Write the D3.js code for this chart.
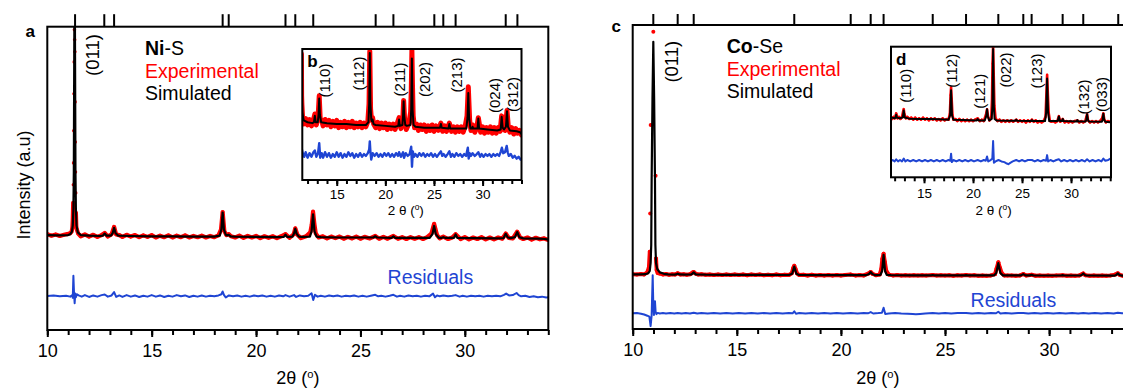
<!DOCTYPE html>
<html>
<head>
<meta charset="utf-8">
<script src="https://cdn.jsdelivr.net/npm/d3@7"></script>
<style>
  html, body { margin: 0; padding: 0; background: #fff; }
  svg { display: block; }
</style>
</head>
<body>
<script>
// ---------------- Ni-S pattern (2θ in degrees, intensity in a.u.) ----------------
const niBragg = [11.33, 12.73, 13.20, 18.40, 18.69, 21.41, 21.88, 22.74, 25.73, 26.58, 28.54, 28.97, 29.56, 31.96, 32.52];

const niSim = [[10.00,313],[10.50,312],[11.00,313],[11.10,316],[11.18,324],[11.22,345],[11.25,400],[11.27,520],[11.29,900],[11.31,1250],[11.33,900],[11.35,520],[11.37,400],[11.40,345],[11.46,322],[11.60,313],[12.00,311],[12.50,310],[12.66,311],[12.75,318],[12.84,311],[13.05,311],[13.13,319],[13.20,337],[13.27,319],[13.40,311],[14.00,310],[15.00,309],[16.00,309],[17.00,308],[18.00,308],[18.26,311],[18.34,332],[18.40,387],[18.46,332],[18.55,314],[18.62,312],[18.69,314],[18.78,309],[19.00,308],[20.00,307],[21.00,306],[21.33,307],[21.41,314],[21.49,307],[21.75,308],[21.82,318],[21.88,334],[21.94,318],[22.05,308],[22.20,307],[22.58,308],[22.66,325],[22.73,381],[22.80,325],[22.90,308],[23.10,306],[24.00,305],[25.00,305],[25.62,305],[25.71,309],[25.80,305],[26.49,304],[26.58,309],[26.67,304],[27.50,304],[28.32,304],[28.45,316],[28.53,343],[28.61,316],[28.75,304],[28.90,304],[28.97,306],[29.05,304],[29.48,304],[29.56,315],[29.64,304],[30.50,303],[31.50,302],[31.86,303],[31.96,317],[32.06,305],[32.20,303],[32.40,306],[32.51,323],[32.61,306],[32.80,302],[33.50,301],[33.85,300],[34.00,298]];

const niExp = [[10.0,316],[10.2,311],[10.4,315],[10.6,310],[10.8,314],[11.0,317],[11.1,319],[11.16,324],[11.2,335],[11.22,363],[11.24,419],[11.25,479],[11.26,551],[11.27,657],[11.28,779],[11.29,884],[11.30,990],[11.31,957],[11.32,917],[11.33,752],[11.34,620],[11.35,521],[11.36,452],[11.37,386],[11.39,340],[11.42,330],[11.48,318],[11.6,309],[11.8,315],[12.0,308],[12.2,314],[12.4,307],[12.6,313],[12.75,320],[12.9,308],[13.08,316],[13.2,340],[13.3,315],[13.45,313],[13.6,307],[13.8,314],[14.0,308],[14.2,313],[14.4,306],[14.6,312],[14.8,307],[15.0,313],[15.2,305],[15.4,311],[15.6,306],[15.8,312],[16.0,305],[16.2,311],[16.4,306],[16.6,312],[16.8,305],[17.0,310],[17.2,306],[17.4,311],[17.6,305],[17.8,310],[18.0,306],[18.2,312],[18.32,331],[18.40,389],[18.48,326],[18.58,313],[18.69,316],[18.8,309],[19.0,305],[19.2,311],[19.4,304],[19.6,310],[19.8,305],[20.0,310],[20.2,303],[20.4,309],[20.6,304],[20.8,309],[21.0,303],[21.2,309],[21.41,316],[21.6,304],[21.8,315],[21.88,335],[21.98,314],[22.15,303],[22.4,309],[22.6,322],[22.67,348],[22.73,390],[22.79,352],[22.86,318],[23.0,305],[23.2,309],[23.4,302],[23.6,308],[23.8,303],[24.0,308],[24.2,301],[24.4,307],[24.6,302],[24.8,308],[25.0,301],[25.2,307],[25.45,302],[25.71,310],[25.9,301],[26.1,307],[26.3,301],[26.58,310],[26.8,301],[27.0,306],[27.2,300],[27.4,306],[27.6,301],[27.8,306],[28.0,300],[28.2,306],[28.4,318],[28.47,335],[28.53,350],[28.59,334],[28.67,313],[28.8,302],[28.97,308],[29.2,300],[29.4,305],[29.56,316],[29.8,300],[30.0,306],[30.2,299],[30.4,305],[30.6,300],[30.8,306],[31.0,299],[31.2,305],[31.4,299],[31.6,305],[31.8,301],[31.96,318],[32.1,304],[32.3,302],[32.51,324],[32.65,305],[32.8,300],[33.0,305],[33.2,298],[33.4,304],[33.6,299],[33.8,302],[34.0,297]];

const niRes = [[10.0,0],[10.3,2],[10.6,-1],[10.9,1],[11.1,-2],[11.2,3],[11.22,-6],[11.25,67],[11.28,10],[11.31,-24],[11.34,8],[11.37,-4],[11.42,6],[11.5,2],[11.65,-2],[11.8,3],[12.0,-3],[12.2,2],[12.4,-2],[12.6,3],[12.75,5],[12.9,-2],[13.08,2],[13.2,13],[13.3,-3],[13.45,2],[13.6,-3],[13.8,3],[14.0,-2],[14.2,2],[14.4,-3],[14.6,1],[14.8,-2],[15.0,3],[15.2,-2],[15.4,2],[15.6,-3],[15.8,1],[16.0,-2],[16.2,3],[16.4,-1],[16.6,2],[16.8,-3],[17.0,1],[17.2,-2],[17.4,2],[17.6,-2],[17.8,1],[18.0,-1],[18.2,2],[18.34,6],[18.4,15],[18.46,4],[18.55,-5],[18.7,2],[18.9,-1],[19.1,2],[19.3,-2],[19.5,1],[19.7,-2],[19.9,2],[20.1,-1],[20.3,2],[20.5,-2],[20.7,1],[20.9,-2],[21.1,2],[21.3,-1],[21.41,3],[21.6,-2],[21.82,3],[21.92,-3],[22.1,2],[22.3,-1],[22.5,1],[22.66,9],[22.74,-13],[22.82,4],[22.95,-2],[23.1,1],[23.3,-2],[23.5,2],[23.7,-1],[23.9,2],[24.1,-2],[24.3,1],[24.5,-1],[24.7,2],[24.9,-2],[25.1,1],[25.3,-2],[25.5,1],[25.71,4],[25.85,-1],[26.0,1],[26.2,-2],[26.4,1],[26.58,4],[26.75,-2],[26.9,1],[27.1,-2],[27.3,2],[27.5,-1],[27.7,1],[27.9,-2],[28.1,1],[28.3,-1],[28.48,8],[28.57,-4],[28.67,2],[28.8,-1],[28.97,2],[29.2,-1],[29.4,1],[29.56,3],[29.75,-2],[29.9,1],[30.1,-2],[30.3,1],[30.5,-1],[30.7,1],[30.9,-2],[31.1,1],[31.3,-1],[31.5,1],[31.7,-1],[31.88,4],[31.98,8],[32.12,2],[32.3,3],[32.48,10],[32.58,3],[32.7,-1],[32.9,1],[33.1,-3],[33.3,-1],[33.5,-4],[33.7,-2],[33.9,-5],[34.0,-4]];

const niInsetHkl = ["(110)", "(112)", "(211)", "(202)", "(213)", "(024)", "(312)"];
const niInsetHklTheta = [13.79, 17.29, 21.43, 24.00, 27.33, 31.26, 33.07];

// ---------------- Co-Se pattern ----------------
const coBragg = [10.99, 12.16, 12.93, 17.76, 20.47, 21.43, 22.05, 24.41, 26.01, 27.56, 28.76, 29.16, 30.65, 31.64, 33.32];

const coSim = [[10.0,273],[10.4,273],[10.6,274],[10.75,279],[10.82,290],[10.86,330],[10.89,420],[10.91,745],[10.95,1150],[10.99,1436],[11.03,1150],[11.07,745],[11.09,420],[11.12,330],[11.18,300],[11.3,283],[11.5,276],[11.7,273],[12.0,272],[12.09,273],[12.16,277],[12.23,273],[12.5,272],[12.83,273],[12.93,283],[13.03,273],[13.5,271.5],[14.5,271],[15.5,271],[16.5,270.5],[17.5,270],[17.66,276],[17.76,312],[17.86,276],[18.0,270],[19.0,269.5],[20.38,269],[20.47,271],[20.56,269],[21.2,269],[21.35,275],[21.43,285],[21.51,275],[21.65,269],[21.9,271],[21.98,290],[22.05,371],[22.12,290],[22.2,271],[22.4,269],[23.5,268.5],[24.33,268.5],[24.41,270],[24.49,268.5],[25.93,268],[26.01,269.5],[26.09,268],[27.35,268],[27.46,280],[27.56,329],[27.66,280],[27.78,268],[28.65,268],[28.76,274.5],[28.87,268],[29.08,268],[29.16,271],[29.24,268],[30.57,267.5],[30.65,269.5],[30.73,267.5],[31.5,267.5],[31.56,270],[31.64,277.5],[31.72,270],[31.8,267.5],[33.15,267],[33.22,270],[33.3,278.5],[33.38,270],[33.5,267],[34.0,266.5]];

const coExp = [[10.0,274],[10.2,272],[10.4,275],[10.55,273],[10.7,283],[10.78,308],[10.82,386],[10.84,578],[10.865,1020],[10.99,1486],[11.1,766],[11.12,353],[11.15,295],[11.2,280],[11.3,277],[11.45,273],[11.6,275],[11.75,271],[11.9,274],[12.03,272],[12.16,279],[12.3,272],[12.45,274],[12.6,271],[12.75,274],[12.87,282],[12.93,285],[13.0,278],[13.15,272],[13.3,274],[13.5,271],[13.7,273],[13.9,270],[14.1,273],[14.3,270],[14.5,272],[14.7,270],[14.9,273],[15.1,270],[15.3,272],[15.5,269],[15.7,272],[15.9,270],[16.1,272],[16.3,269],[16.5,271],[16.7,269],[16.9,272],[17.1,269],[17.3,271],[17.5,270],[17.64,279],[17.71,305],[17.76,316],[17.82,300],[17.9,277],[18.0,270],[18.2,271],[18.4,268],[18.6,271],[18.8,268],[19.0,270],[19.2,268],[19.4,270],[19.6,268],[19.8,270],[20.0,268],[20.2,270],[20.47,272],[20.7,268],[20.9,270],[21.1,268],[21.33,278],[21.43,285],[21.53,275],[21.68,269],[21.86,272],[21.94,300],[21.99,350],[22.05,376],[22.11,335],[22.18,290],[22.3,272],[22.5,268],[22.7,270],[22.9,267],[23.1,269],[23.3,267],[23.5,269],[23.7,267],[23.9,269],[24.1,267],[24.41,270],[24.6,267],[24.8,269],[25.0,267],[25.2,269],[25.4,266],[25.6,269],[25.8,267],[26.01,270],[26.2,267],[26.4,269],[26.6,266],[26.8,268],[27.0,266],[27.2,268],[27.4,274],[27.47,300],[27.56,334],[27.64,305],[27.72,280],[27.85,268],[28.0,267],[28.2,268],[28.4,266],[28.6,268],[28.76,275],[28.9,267],[29.16,271],[29.35,266],[29.55,268],[29.75,266],[29.95,268],[30.15,266],[30.35,268],[30.65,269],[30.85,266],[31.05,268],[31.25,266],[31.45,268],[31.57,274],[31.64,278],[31.74,269],[31.95,266],[32.15,268],[32.35,266],[32.55,268],[32.75,266],[32.95,268],[33.17,272],[33.3,279],[33.4,270],[33.55,266],[33.75,268],[34.0,267]];

const coRes = [[10.0,0],[10.2,1],[10.4,-2],[10.55,-6],[10.7,-12],[10.8,-17],[10.86,-64],[10.91,-10],[10.96,190],[10.99,40],[11.02,-8],[11.07,60],[11.1,8],[11.14,-4],[11.2,2],[11.3,-1],[11.45,1],[11.6,-1],[11.8,1],[12.0,-1],[12.16,2],[12.35,-1],[12.55,1],[12.75,-1],[12.93,3],[13.1,-1],[13.3,1],[13.6,-1],[13.9,1],[14.2,-1],[14.5,1],[14.8,-1],[15.1,1],[15.4,-1],[15.7,1],[16.0,-1],[16.3,1],[16.6,-1],[16.9,1],[17.2,-1],[17.5,1],[17.68,0],[17.76,10],[17.84,-2],[18.0,1],[18.3,-1],[18.6,1],[18.9,-1],[19.2,1],[19.5,-1],[19.8,1],[20.1,-1],[20.47,1],[20.8,-1],[21.1,1],[21.3,0],[21.43,6],[21.55,-1],[21.8,1],[21.97,3],[22.05,28],[22.13,-3],[22.3,-1],[22.6,1],[22.9,-1],[23.2,-2],[23.45,-4],[23.6,-5],[23.8,-3],[24.05,-1],[24.41,1],[24.7,-1],[25.0,1],[25.3,-1],[25.6,1],[26.01,1],[26.3,-1],[26.6,1],[26.9,-1],[27.2,1],[27.45,0],[27.56,8],[27.66,-1],[27.9,1],[28.2,-1],[28.5,1],[28.76,2],[29.0,-1],[29.3,1],[29.6,-1],[29.9,1],[30.2,-1],[30.5,1],[30.8,-1],[31.1,1],[31.4,-1],[31.64,2],[31.9,-1],[32.2,1],[32.5,-1],[32.8,1],[33.1,-1],[33.3,3],[33.5,0],[33.8,1],[34.0,3]];

const coInsetHkl = ["(110)", "(112)", "(121)", "(022)", "(123)", "(132)", "(033)"];
const coInsetHklTheta = [13.06, 17.82, 20.71, 23.34, 26.51, 31.27, 33.11];

// Axis ticks
const mainMajorTicks = [10, 15, 20, 25, 30];
const mainMinorTicks = d3.range(10, 35, 1);
const insetMajorTicks = [15, 20, 25, 30];
const insetMinorTicks = d3.range(12, 35, 1);

// ---------------- drawing ----------------
const FONT = '"Liberation Sans", Arial, Helvetica, sans-serif';
const RED = "#ff0000", BLUE = "#1f45d3", BLACK = "#000000";

const svg = d3.select("body").append("svg")
  .attr("width", 1123).attr("height", 391)
  .style("font-family", FONT)
  .style("background", "#fff");

const defs = svg.append("defs");
let clipN = 0;
function clip(x0, y0, x1, y1) {
  const id = "clip" + (clipN++);
  defs.append("clipPath").attr("id", id).append("rect")
    .attr("x", x0).attr("y", y0).attr("width", x1 - x0).attr("height", y1 - y0);
  return "url(#" + id + ")";
}

// experimental band + points, simulated line, shifted residual
function drawPattern(g, x, y, exp, sim, res, st) {
  const band = d3.line().defined(d => d[1] <= st.bandMax).x(d => x(d[0])).y(d => y(d[1]));
  const line = d3.line().x(d => x(d[0])).y(d => y(d[1]));
  const resLine = d3.line().x(d => x(d[0])).y(d => y(d[1] + st.resOffset));

  g.append("path").datum(exp).attr("d", band)
    .attr("fill", "none").attr("stroke", RED).attr("stroke-width", st.band)
    .attr("stroke-linejoin", "round").attr("stroke-linecap", "round");
  g.append("g").selectAll("circle").data(exp).join("circle")
    .attr("cx", d => x(d[0])).attr("cy", d => y(d[1])).attr("r", st.dot).attr("fill", RED);
  g.append("path").datum(sim).attr("d", line)
    .attr("fill", "none").attr("stroke", BLACK).attr("stroke-width", st.sim)
    .attr("stroke-linejoin", "round");
  g.append("path").datum(res).attr("d", resLine)
    .attr("fill", "none").attr("stroke", BLUE).attr("stroke-width", st.res)
    .attr("stroke-linejoin", "round");
}

function bottomAxis(g, x, yPos, major, minor, majorLen, minorLen, pad, fs, fmt) {
  const minorAxis = d3.axisBottom(x).tickValues(minor).tickSize(minorLen).tickFormat("");
  const majorAxis = d3.axisBottom(x).tickValues(major).tickSize(majorLen).tickPadding(pad).tickFormat(fmt);
  [minorAxis, majorAxis].forEach(ax => {
    const a = g.append("g").attr("transform", "translate(0," + yPos + ")").call(ax);
    a.select(".domain").remove();
    a.selectAll(".tick line").attr("stroke", BLACK).attr("stroke-width", 2);
    a.selectAll(".tick text").attr("fill", BLACK).attr("font-size", fs).attr("font-family", FONT);
  });
}

function thetaTitle(g, cx, y, fs, spaced) {
  const t = g.append("text").attr("x", cx).attr("y", y).attr("text-anchor", "middle")
    .attr("font-size", fs).attr("fill", BLACK);
  t.append("tspan").text(spaced ? "2 θ (" : "2θ (");
  t.append("tspan").attr("font-size", fs * 0.62).attr("dy", -fs * 0.36).text("o");
  t.append("tspan").attr("dy", fs * 0.36).text(")");
}

function rotLabel(g, cx, cy, str, fs) {
  g.append("text").attr("transform", "translate(" + cx + "," + cy + ") rotate(-90)")
    .attr("text-anchor", "middle").attr("dominant-baseline", "central")
    .attr("font-size", fs).attr("fill", BLACK).text(str);
}

function panel(p) {
  const g = svg.append("g");
  const x = d3.scaleLinear().domain([10, 34]).range([p.left, p.right]);
  const y = d3.scaleLinear().domain(p.yDomain).range([p.bottom, p.top]);

  const plot = g.append("g").attr("clip-path", clip(p.left, p.top, p.right, p.bottom));
  drawPattern(plot, x, y, p.exp, p.sim, p.res, p.style);

  // reflection markers above the frame
  g.append("g").selectAll("line").data(p.bragg).join("line")
    .attr("x1", d => x(d)).attr("x2", d => x(d))
    .attr("y1", p.top - p.braggLen).attr("y2", p.top)
    .attr("stroke", BLACK).attr("stroke-width", 2);

  g.append("rect").attr("x", p.left).attr("y", p.top)
    .attr("width", p.right - p.left).attr("height", p.bottom - p.top)
    .attr("fill", "none").attr("stroke", BLACK).attr("stroke-width", 2);

  bottomAxis(g, x, p.bottom, mainMajorTicks, mainMinorTicks, 7, 5, 7, 18, d3.format("d"));
  thetaTitle(g, (p.left + Math.min(p.right, 1123)) / 2, 384, 18, false);

  // panel letter and legend
  g.append("text").attr("x", p.letterX).attr("y", p.letterY).attr("font-size", 17)
    .attr("font-weight", "bold").text(p.letter);
  const lg = g.append("text").attr("x", p.legendX).attr("y", p.legendY).attr("font-size", 19.5);
  lg.append("tspan").attr("font-weight", "bold").text(p.metal);
  lg.append("tspan").text(p.anion);
  g.append("text").attr("x", p.legendX).attr("y", p.legendY + 22.5).attr("font-size", 19.5)
    .attr("fill", RED).text("Experimental");
  g.append("text").attr("x", p.legendX).attr("y", p.legendY + 45).attr("font-size", 19.5)
    .attr("fill", BLACK).text("Simulated");
  g.append("text").attr("x", x(p.resLabelTheta)).attr("y", p.resLabelY).attr("font-size", 19.5)
    .attr("fill", BLUE).text("Residuals");
  rotLabel(g, x(p.mainHklTheta), p.mainHklY, "(011)", 18.5);

  // inset
  const ins = p.inset;
  const xi = d3.scaleLinear().domain(ins.xDomain).range([ins.left, ins.right]);
  const yi = d3.scaleLinear().domain(ins.yDomain).range([ins.bottom, ins.top]);
  g.append("rect").attr("x", ins.left).attr("y", ins.top)
    .attr("width", ins.right - ins.left).attr("height", ins.bottom - ins.top).attr("fill", "#fff");
  const iplot = g.append("g").attr("clip-path", clip(ins.left, ins.top, ins.right, ins.bottom));
  drawPattern(iplot, xi, yi, p.exp, p.sim, p.res, ins.style);
  g.append("rect").attr("x", ins.left).attr("y", ins.top)
    .attr("width", ins.right - ins.left).attr("height", ins.bottom - ins.top)
    .attr("fill", "none").attr("stroke", BLACK).attr("stroke-width", 2);
  bottomAxis(g, xi, ins.bottom, insetMajorTicks, insetMinorTicks, 6, 4, ins.pad, 13.5, d3.format("d"));
  thetaTitle(g, xi(ins.titleTheta), 215, 13.5, true);
  g.append("text").attr("x", ins.left + 5).attr("y", ins.letterY).attr("font-size", 17)
    .attr("font-weight", "bold").text(ins.letter);
  ins.hkl.forEach((h, i) => rotLabel(g, xi(ins.hklTheta[i]), ins.hklY[i], h, 15));
}

// panel a / b : Ni-S
panel({
  left: 47.3, right: 548.3, top: 26.7, bottom: 330,
  yDomain: [0, 1000],
  exp: niExp, sim: niSim, res: niRes, bragg: niBragg, braggLen: 12.5,
  style: { bandMax: 420, band: 4.2, dot: 1.8, sim: 2.2, res: 2, resOffset: 112 },
  letter: "a", letterX: 25.5, letterY: 37.3,
  metal: "Ni", anion: "-S", legendX: 145, legendY: 55,
  resLabelTheta: 26.3, resLabelY: 284.3,
  mainHklTheta: 12.17, mainHklY: 55,
  inset: {
    left: 302.3, right: 521.5, top: 49, bottom: 180,
    xDomain: [11.46, 34.0], yDomain: [247.5, 391.5],
    style: { bandMax: 420, band: 5, dot: 1.5, sim: 2, res: 2.4, resOffset: 275 },
    pad: 3, titleTheta: 22.1, letter: "b", letterY: 66.7,
    hkl: niInsetHkl, hklTheta: niInsetHklTheta,
    hklY: [80.5, 73.5, 79.5, 79.5, 75, 95.5, 94.5]
  }
});

// panel c / d : Co-Se
panel({
  left: 632.7, right: 1132.4, top: 25, bottom: 329,
  yDomain: [0, 1520],
  exp: coExp, sim: coSim, res: coRes, bragg: coBragg, braggLen: 11,
  style: { bandMax: 400, band: 4, dot: 2, sim: 2.2, res: 2, resOffset: 78.5 },
  letter: "c", letterX: 611.5, letterY: 32.3,
  metal: "Co", anion: "-Se", legendX: 726.7, legendY: 53.3,
  resLabelTheta: 26.23, resLabelY: 307.3,
  mainHklTheta: 11.87, mainHklY: 61.7,
  inset: {
    left: 891, right: 1111, top: 46.7, bottom: 177.3,
    xDomain: [11.63, 34.08], yDomain: [187.7, 374.3],
    style: { bandMax: 400, band: 2.6, dot: 1.1, sim: 2, res: 2, resOffset: 211.4 },
    pad: 5.5, titleTheta: 22.1, letter: "d", letterY: 65,
    hkl: coInsetHkl, hklTheta: coInsetHklTheta,
    hklY: [85.8, 70.8, 91.2, 70, 71, 97, 94.5]
  }
});

// y-axis title of the left panel
rotLabel(svg, 24, 185, "Intensity (a.u)", 18);
</script>
</body>
</html>
